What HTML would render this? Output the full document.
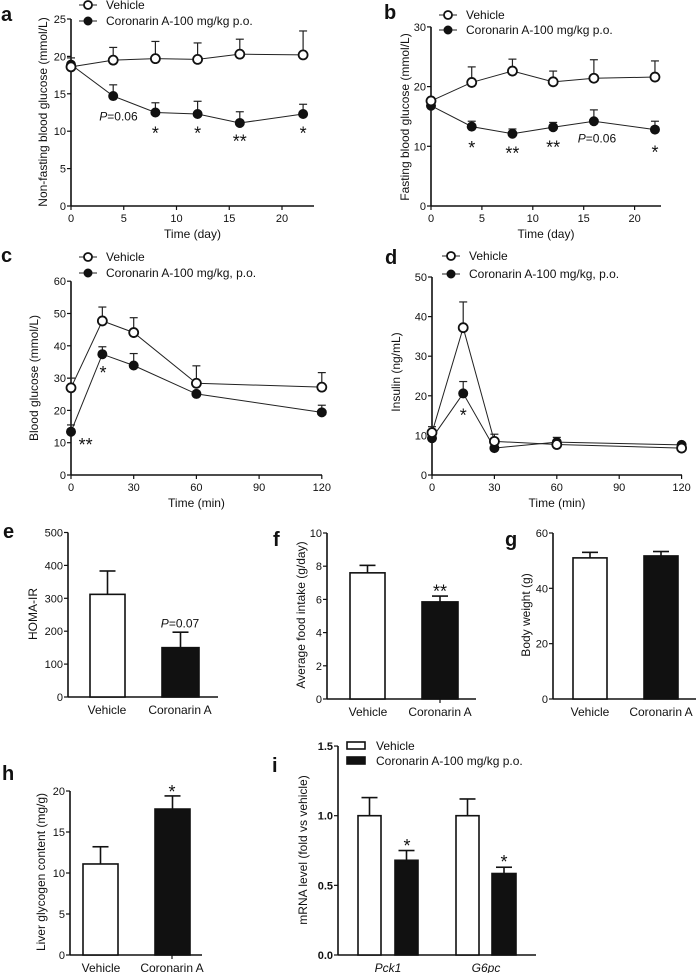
<!DOCTYPE html>
<html><head><meta charset="utf-8"><style>
html,body{margin:0;padding:0;background:#fff;}
svg{display:block;font-family:"Liberation Sans",sans-serif;}
.n{font-family:"Liberation Sans Narrow","Liberation Sans",sans-serif;}
</style></head><body>
<svg id="fig" width="696" height="973" viewBox="0 0 696 973" xmlns="http://www.w3.org/2000/svg"></svg>
<script>
// ---- Panel a data ----
const aDays=[0,4,8,12,16,22];
const aVehicle=[18.6,19.5,19.7,19.6,20.3,20.2];
const aVehicleErr=[0.6,1.7,2.3,2.2,2.0,3.2];
const aCoronarin=[18.9,14.7,12.5,12.3,11.1,12.3];
const aCoronarinErr=[0.9,1.5,1.3,1.7,1.5,1.3];
const aYTicks=[0,5,10,15,20,25];
const aXTicks=[0,5,10,15,20];
// ---- Panel b data ----
const bDays=[0,4,8,12,16,22];
const bVehicle=[17.6,20.7,22.6,20.8,21.4,21.6];
const bVehicleErr=[0.5,2.6,2.0,1.8,3.1,2.7];
const bCoronarin=[16.8,13.3,12.1,13.2,14.2,12.8];
const bCoronarinErr=[0.3,0.9,0.8,0.8,1.9,1.4];
const bYTicks=[0,10,20,30];
const bXTicks=[0,5,10,15,20];
// ---- Panel c data ----
const cTimes=[0,15,30,60,120];
const cVehicle=[27.0,47.7,44.1,28.4,27.2];
const cVehicleErr=[3.0,4.3,4.6,5.4,4.5];
const cCoronarin=[13.4,37.4,33.9,25.1,19.4];
const cCoronarinErr=[2.1,2.3,3.7,0.8,2.2];
const cYTicks=[0,10,20,30,40,50,60];
const cXTicks=[0,30,60,90,120];
// ---- Panel d data ----
const dTimes=[0,15,30,60,120];
const dVehicle=[10.7,37.2,8.5,7.7,6.8];
const dVehicleErr=[1.5,6.5,1.8,1.0,0.5];
const dCoronarin=[9.3,20.6,6.8,8.3,7.6];
const dCoronarinErr=[0.8,3.0,0.5,1.2,0.5];
const dYTicks=[0,10,20,30,40,50];
const dXTicks=[0,30,60,90,120];
// ---- Bar panels ----
const groupCats=["Vehicle","Coronarin A"];
const eValues=[312,150];
const eErr=[71,47];
const eYTicks=[0,100,200,300,400,500];
const fValues=[7.6,5.85];
const fErr=[0.45,0.35];
const fYTicks=[0,2,4,6,8,10];
const gValues=[51.0,51.7];
const gErr=[2.0,1.6];
const gYTicks=[0,20,40,60];
const hValues=[11.1,17.8];
const hErr=[2.1,1.6];
const hYTicks=[0,5,10,15,20];
const iGenes=["Pck1","G6pc"];
const iVehicle=[1.0,1.0];
const iVehicleErr=[0.13,0.12];
const iCoronarin=[0.68,0.585];
const iCoronarinErr=[0.07,0.045];
const iYTicks=[0,0.5,1.0,1.5];
const iTickLabels=["0.0","0.5","1.0","1.5"];

const svg=document.getElementById('fig');
const NS='http://www.w3.org/2000/svg';
function mk(tag,attrs,parent,name){
  const el=document.createElementNS(NS,tag);
  for(const k in attrs) el.setAttribute(k,attrs[k]);
  
  
  (parent||svg).appendChild(el);
  return el;
}
function txt(parent,x,y,s,size,anchor,name,extra){
  const a={x:x,y:y,'font-size':size,'text-anchor':anchor||'middle',fill:'#111'};
  if(extra) for(const k in extra) a[k]=extra[k];
  const t=mk('text',a,parent,name);
  t.textContent=s;
  return t;
}
function ptxt(parent,x,y,size,name,tail){
  const t=mk('text',{x:x,y:y,'font-size':size,'text-anchor':'middle',fill:'#111'},parent,name);
  const p=document.createElementNS(NS,'tspan');p.setAttribute('font-style','italic');p.textContent='P';t.appendChild(p);
  t.appendChild(document.createTextNode(tail));
  return t;
}
function panelLetter(x,y,s){ txt(svg,x,y,s,20,'start','panel-label-'+s,{'font-weight':'bold'}); }

function lineChart(c){
  const g=mk('g',{},svg,'panel-'+c.id);
  const X=v=>c.x0+v*c.xpx, Y=v=>c.y0-v*c.ypx;
  const top=Y(c.yTicks[c.yTicks.length-1]);
  mk('line',{x1:c.x0,y1:c.y0,x2:c.x0,y2:top,stroke:'#111','stroke-width':1.6},g,'y-axis');
  mk('line',{x1:c.x0,y1:c.y0,x2:c.xEnd,y2:c.y0,stroke:'#111','stroke-width':1.6},g,'x-axis');
  c.yTicks.forEach(v=>{
    mk('line',{x1:c.x0-4,y1:Y(v),x2:c.x0,y2:Y(v),stroke:'#111','stroke-width':1.2},g,'y-tick');
    txt(g,c.x0-5,Y(v)+4,String(v),11,'end','y-tick-label');
  });
  c.xTicks.forEach(v=>{
    mk('line',{x1:X(v),y1:c.y0,x2:X(v),y2:c.y0+4,stroke:'#111','stroke-width':1.2},g,'x-tick');
    txt(g,X(v),c.y0+16,String(v),11,'middle','x-tick-label');
  });
  txt(g,(c.x0+c.xEnd)/2,c.y0+32,c.xTitle,12,'middle','x-axis-title');
  txt(g,0,0,c.yTitle,12,'middle','y-axis-title',{transform:'translate('+c.yTitleX+','+(c.yTitleY)+') rotate(-90)'});
  c.series.forEach(s=>{
    const pts=c.xs.map((x,i)=>X(x)+','+Y(s.v[i])).join(' ');
    mk('polyline',{points:pts,fill:'none',stroke:'#222','stroke-width':1},g,'line-'+s.name);
  });
  c.series.forEach(s=>{
    c.xs.forEach((x,i)=>{
      const px=X(x),py=Y(s.v[i]),pt=Y(s.v[i]+s.e[i]);
      mk('line',{x1:px,y1:py-4,x2:px,y2:pt,stroke:'#222','stroke-width':1.2},g,'error-bar-'+s.name);
      mk('line',{x1:px-4,y1:pt,x2:px+4,y2:pt,stroke:'#222','stroke-width':1.2},g,'error-cap-'+s.name);
    });
  });
  c.series.slice().reverse().forEach(s=>{
    c.xs.forEach((x,i)=>{
      mk('circle',{cx:X(x),cy:Y(s.v[i]),r:4.5,fill:s.open?'#fff':'#111',stroke:'#111','stroke-width':s.open?1.8:1},g,'point-'+s.name);
    });
  });
  c.series.forEach((s,k)=>{
    const ly=c.legY+k*c.legDy;
    mk('line',{x1:c.legX-9,y1:ly,x2:c.legX+9,y2:ly,stroke:'#222','stroke-width':1},g,'legend-line-'+s.name);
    mk('circle',{cx:c.legX,cy:ly,r:4,fill:s.open?'#fff':'#111',stroke:'#111','stroke-width':s.open?1.8:1},g,'legend-marker-'+s.name);
    txt(g,c.legX+18,ly+4,s.label,12,'start','legend-entry-'+s.name);
  });
  (c.ann||[]).forEach(a=>{
    if(a.p) ptxt(g,X(a.x),Y(a.y),12,'p-value-label',a.t);
    else txt(g,X(a.x),Y(a.y)+3,a.t,18,'middle','significance-star');
  });
}

function barChart(c){
  const g=mk('g',{},svg,'panel-'+c.id);
  g.setAttribute('class','n');
  const Y=v=>c.y0-v*c.ypx;
  const top=Y(c.yTicks[c.yTicks.length-1]);
  mk('line',{x1:c.x0,y1:c.y0,x2:c.x0,y2:top,stroke:'#111','stroke-width':1.6},g,'y-axis');
  mk('line',{x1:c.x0,y1:c.y0,x2:c.xEnd,y2:c.y0,stroke:'#111','stroke-width':1.6},g,'x-axis');
  c.yTicks.forEach((v,i)=>{
    mk('line',{x1:c.x0-4,y1:Y(v),x2:c.x0,y2:Y(v),stroke:'#111','stroke-width':1.2},g,'y-tick');
    txt(g,c.x0-5,Y(v)+4,c.yLabels?c.yLabels[i]:String(v),11,'end','y-tick-label',c.boldTicks?{'font-weight':'bold'}:null);
  });
  c.bars.forEach(b=>{
    const h=b.v*c.ypx;
    mk('rect',{x:b.x,y:c.y0-h,width:b.w,height:h,fill:b.fill,stroke:'#111','stroke-width':1.6},g,'bar-'+b.name);
    const cx=b.x+b.w/2,pt=Y(b.v+b.e);
    mk('line',{x1:cx,y1:Y(b.v),x2:cx,y2:pt,stroke:'#111','stroke-width':1.6},g,'error-bar-'+b.name);
    mk('line',{x1:cx-8,y1:pt,x2:cx+8,y2:pt,stroke:'#111','stroke-width':1.6},g,'error-cap-'+b.name);
  });
  c.xLabels.forEach(l=>{
    if(l.tick) mk('line',{x1:l.x,y1:c.y0,x2:l.x,y2:c.y0+4,stroke:'#111','stroke-width':1.2},g,'x-tick');
    txt(g,l.x,c.y0+17,l.t,12,'middle','x-tick-label',l.it?{'font-style':'italic'}:null);
  });
  txt(g,0,0,c.yTitle,12,'middle','y-axis-title',{transform:'translate('+c.yTitleX+','+c.yTitleY+') rotate(-90)'});
  (c.ann||[]).forEach(a=>{
    if(a.p) ptxt(g,a.x,Y(a.y),12,'p-value-label',a.t);
    else txt(g,a.x,Y(a.y)+3,a.t,18,'middle','significance-star');
  });
}

// Panel a
lineChart({id:'a',x0:71,xpx:10.55,xEnd:314,y0:206,ypx:7.48,yTicks:aYTicks,xTicks:aXTicks,xs:aDays,
  xTitle:'Time (day)',yTitle:'Non-fasting blood glucose (mmol/L)',yTitleX:47,yTitleY:112,
  series:[{name:'vehicle',label:'Vehicle',v:aVehicle,e:aVehicleErr,open:true},
          {name:'coronarin',label:'Coronarin A-100 mg/kg p.o.',v:aCoronarin,e:aCoronarinErr,open:false}],
  legX:88,legY:5,legDy:16,
  ann:[{x:4.5,y:11.4,t:'=0.06',p:true},{x:8,y:9.3,t:'*'},{x:12,y:9.3,t:'*'},{x:16,y:8.2,t:'**'},{x:22,y:9.3,t:'*'}]});
panelLetter(1,21,'a');
// Panel b
lineChart({id:'b',x0:431,xpx:10.18,xEnd:661,y0:206,ypx:5.97,yTicks:bYTicks,xTicks:bXTicks,xs:bDays,
  xTitle:'Time (day)',yTitle:'Fasting blood glucose (mmol/L)',yTitleX:409,yTitleY:117,
  series:[{name:'vehicle',label:'Vehicle',v:bVehicle,e:bVehicleErr,open:true},
          {name:'coronarin',label:'Coronarin A-100 mg/kg p.o.',v:bCoronarin,e:bCoronarinErr,open:false}],
  legX:448,legY:15,legDy:15,
  ann:[{x:4,y:9.2,t:'*'},{x:8,y:8.3,t:'**'},{x:12,y:9.3,t:'**'},{x:16.3,y:10.6,t:'=0.06',p:true},{x:22,y:8.5,t:'*'}]});
panelLetter(384,19,'b');
// Panel c
lineChart({id:'c',x0:71,xpx:2.09,xEnd:322,y0:475,ypx:3.23,yTicks:cYTicks,xTicks:cXTicks,xs:cTimes,
  xTitle:'Time (min)',yTitle:'Blood glucose (mmol/L)',yTitleX:38,yTitleY:378,
  series:[{name:'vehicle',label:'Vehicle',v:cVehicle,e:cVehicleErr,open:true},
          {name:'coronarin',label:'Coronarin A-100 mg/kg, p.o.',v:cCoronarin,e:cCoronarinErr,open:false}],
  legX:88,legY:257,legDy:16,
  ann:[{x:7,y:8.3,t:'**'},{x:15.3,y:30.6,t:'*'}]});
panelLetter(1,262,'c');
// Panel d
lineChart({id:'d',x0:432,xpx:2.08,xEnd:682,y0:475,ypx:3.96,yTicks:dYTicks,xTicks:dXTicks,xs:dTimes,
  xTitle:'Time (min)',yTitle:'Insulin (ng/mL)',yTitleX:400,yTitleY:372,
  series:[{name:'vehicle',label:'Vehicle',v:dVehicle,e:dVehicleErr,open:true},
          {name:'coronarin',label:'Coronarin A-100 mg/kg, p.o.',v:dCoronarin,e:dCoronarinErr,open:false}],
  legX:451,legY:256,legDy:18,
  ann:[{x:15,y:14.3,t:'*'}]});
panelLetter(385,264,'d');
// Panel e
barChart({id:'e',x0:68,xEnd:218,y0:697,ypx:0.329,yTicks:eYTicks,yTitle:'HOMA-IR',yTitleX:37,yTitleY:614,
  bars:[{name:'vehicle',x:90,w:35,v:eValues[0],e:eErr[0],fill:'#fff'},{name:'coronarin',x:162,w:37,v:eValues[1],e:eErr[1],fill:'#111'}],
  xLabels:[{x:107,t:groupCats[0]},{x:180,t:groupCats[1]}],
  ann:[{x:180,y:212,t:'=0.07',p:true}]});
panelLetter(3,538,'e');
// Panel f
barChart({id:'f',x0:327,xEnd:476,y0:699,ypx:16.6,yTicks:fYTicks,yTitle:'Average food intake (g/day)',yTitleX:305,yTitleY:615,
  bars:[{name:'vehicle',x:350,w:35,v:fValues[0],e:fErr[0],fill:'#fff'},{name:'coronarin',x:422,w:36,v:fValues[1],e:fErr[1],fill:'#111'}],
  xLabels:[{x:368,t:groupCats[0]},{x:440,t:groupCats[1],tick:true}],
  ann:[{x:440,y:6.3,t:'**'}]});
panelLetter(273,546,'f');
// Panel g
barChart({id:'g',x0:553,xEnd:696,y0:699,ypx:2.767,yTicks:gYTicks,yTitle:'Body weight (g)',yTitleX:530,yTitleY:615,
  bars:[{name:'vehicle',x:573,w:34,v:gValues[0],e:gErr[0],fill:'#fff'},{name:'coronarin',x:644,w:34,v:gValues[1],e:gErr[1],fill:'#111'}],
  xLabels:[{x:590,t:groupCats[0]},{x:661,t:groupCats[1]}]});
panelLetter(505,546,'g');
// Panel h
barChart({id:'h',x0:70,xEnd:202,y0:955,ypx:8.2,yTicks:hYTicks,yTitle:'Liver glycogen content (mg/g)',yTitleX:45,yTitleY:872,
  bars:[{name:'vehicle',x:83,w:35,v:hValues[0],e:hErr[0],fill:'#fff'},{name:'coronarin',x:155,w:35,v:hValues[1],e:hErr[1],fill:'#111'}],
  xLabels:[{x:101,t:groupCats[0]},{x:172,t:groupCats[1],tick:true}],
  ann:[{x:172,y:19.5,t:'*'}]});
panelLetter(2,780,'h');
// Panel i
barChart({id:'i',x0:338,xEnd:536,y0:955,ypx:139.3,yTicks:iYTicks,yLabels:iTickLabels,boldTicks:true,
  yTitle:'mRNA level (fold vs vehicle)',yTitleX:307,yTitleY:850,
  bars:[{name:'pck1-vehicle',x:358,w:23,v:iVehicle[0],e:iVehicleErr[0],fill:'#fff'},
        {name:'pck1-coronarin',x:395,w:23,v:iCoronarin[0],e:iCoronarinErr[0],fill:'#111'},
        {name:'g6pc-vehicle',x:456,w:23,v:iVehicle[1],e:iVehicleErr[1],fill:'#fff'},
        {name:'g6pc-coronarin',x:492,w:24,v:iCoronarin[1],e:iCoronarinErr[1],fill:'#111'}],
  xLabels:[{x:388,t:iGenes[0],it:true},{x:486,t:iGenes[1],it:true}],
  ann:[{x:407,y:0.76,t:'*'},{x:504,y:0.646,t:'*'}]});
panelLetter(272,772,'i');
// Panel i legend
const leg=mk('g',{},svg,'legend-i');
leg.setAttribute('class','n');
mk('rect',{x:347,y:742,width:18,height:7,fill:'#fff',stroke:'#111','stroke-width':1.6},leg,'legend-swatch-vehicle');
txt(leg,376,750,'Vehicle',12,'start','legend-entry-vehicle');
mk('rect',{x:347,y:757,width:18,height:7,fill:'#111',stroke:'#111','stroke-width':1.6},leg,'legend-swatch-coronarin');
txt(leg,376,765,'Coronarin A-100 mg/kg p.o.',12,'start','legend-entry-coronarin');
</script>
</body></html>
